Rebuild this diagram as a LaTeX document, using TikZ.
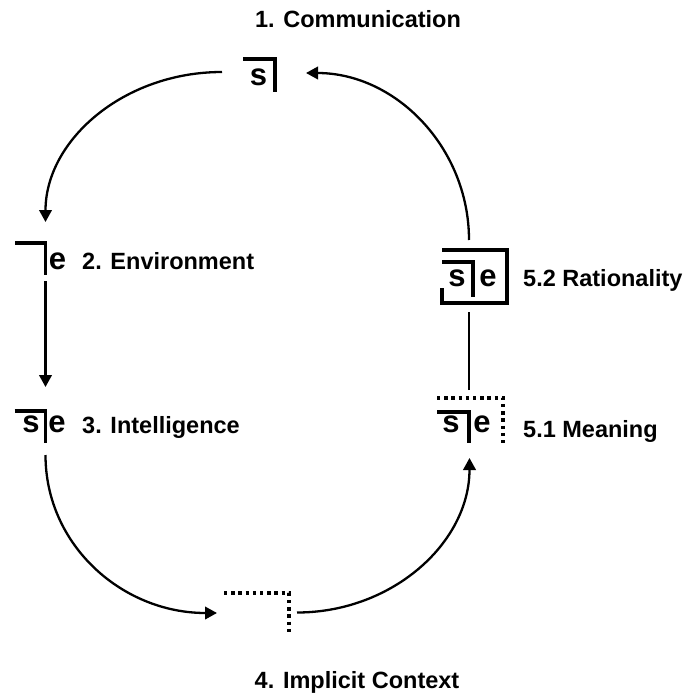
\documentclass[tikz,border=0pt]{standalone}
\usepackage{fontspec}
\setmainfont{Liberation Sans}
\usetikzlibrary{arrows.meta,positioning}
\definecolor{inkcolor}{RGB}{0,0,0}

\begin{document}
\begin{tikzpicture}[
x=1pt, y=-1pt,
frame/.style={inner sep=0pt, outer sep=0pt},
bar/.style={draw=inkcolor, line width=3.8pt},
dots/.style={draw=inkcolor, line width=3.3pt, dash pattern=on 3.3pt off 3.9pt},
glyph/.style={inner sep=0pt, font=\fontsize{31}{31}\selectfont\bfseries},
caption/.style={inner sep=0pt, font=\fontsize{23.5}{26}\selectfont\bfseries},
flow/.style={draw=inkcolor, line width=2.3pt, -{Triangle[length=12pt,width=12.5pt]}}
]

\useasboundingbox (0,0) rectangle (687,695);

% 1. Communication
\node[frame, minimum width=32pt, minimum height=33pt] (comm) at (259,75.5) {};
\node[glyph] (comm-s) at (258.5,77) {s};
\draw[bar] (comm.north west) -| (comm.south east);
\node[caption, anchor=base] (comm-label) at (358,28) {1. Communication};

% 2. Environment
\node[frame, minimum width=30.5pt, minimum height=32pt] (env) at (30.25,259) {};
\node[glyph] (env-e) at (57.5,261) {e};
\draw[bar] (env.north west) -| (env.south east);
\node[caption, anchor=base west] (env-label) at (82,269) {2. Environment};

% 3. Intelligence
\node[frame, minimum width=31pt, minimum height=32pt] (intel) at (30,427) {};
\node[glyph] (intel-s) at (31,424) {s};
\node[glyph] (intel-e) at (57,424) {e};
\draw[bar] (intel.north west) -| (intel.south east);
\node[caption, anchor=base west] (intel-label) at (82,433) {3. Intelligence};

% 4. Implicit Context
\node[frame, minimum width=65pt, minimum height=39pt] (implicit) at (256.5,612.5) {};
\draw[dots] (implicit.north west) -| (implicit.south east);
\node[caption, anchor=base] (implicit-label) at (357,688) {4. Implicit Context};

% 5.1 Meaning
\node[frame, minimum width=66pt, minimum height=45pt] (meaning) at (470,420.5) {};
\node[frame, minimum width=32pt, minimum height=31pt] (meaning-in) at (453,427.5) {};
\node[glyph] (meaning-s) at (451,424) {s};
\node[glyph] (meaning-e) at (482,424) {e};
\draw[dots] (meaning.north west) -| (meaning.south east);
\draw[bar] (meaning-in.north west) -| (meaning-in.south east);
\node[caption, anchor=base west] (meaning-label) at (523,437) {5.1 Meaning};

% 5.2 Rationality
\node[frame, minimum width=65pt, minimum height=53pt] (ration) at (474.5,276.5) {};
\node[frame, minimum width=31pt, minimum height=35pt] (ration-in) at (457.5,279.5) {};
\node[glyph] (ration-s) at (457,278) {s};
\node[glyph] (ration-e) at (488,278) {e};
\draw[bar] ([shift={(0,-15)}]ration.south west) -- (ration.south west) -| (ration.north east) -- (ration.north west);
\draw[bar] (ration-in.north west) -| (ration-in.south east);
\node[caption, anchor=base west] (ration-label) at (523,286.5) {5.2 Rationality};

% cycle
\draw[flow] ([shift={(-21,-3.5)}]comm.west) .. controls +(-98,0) and +(0,-82) .. ([shift={(0,-21)}]env.north east);
\draw[flow] ([shift={(0,6)}]env.south east) -- ([shift={(0,-24)}]intel.north east);
\draw[flow] ([shift={(0,12)}]intel.south east) .. controls +(0,90) and +(-95,0) .. ([shift={(-7,0.5)}]implicit.west);
\draw[flow] ([shift={(8,0)}]implicit.east) .. controls +(95,0) and +(0,85) .. ([shift={(0.5,15)}]meaning-in.south east);
\draw[draw=inkcolor, line width=2.3pt] ([shift={(-1,-8)}]meaning.north) -- ([shift={(-5.5,9)}]ration.south);
\draw[flow] ([shift={(-5.5,-10)}]ration.north) .. controls +(0,-92) and +(90,0) .. ([shift={(31,-2.5)}]comm.east);

\end{tikzpicture}
\end{document}
